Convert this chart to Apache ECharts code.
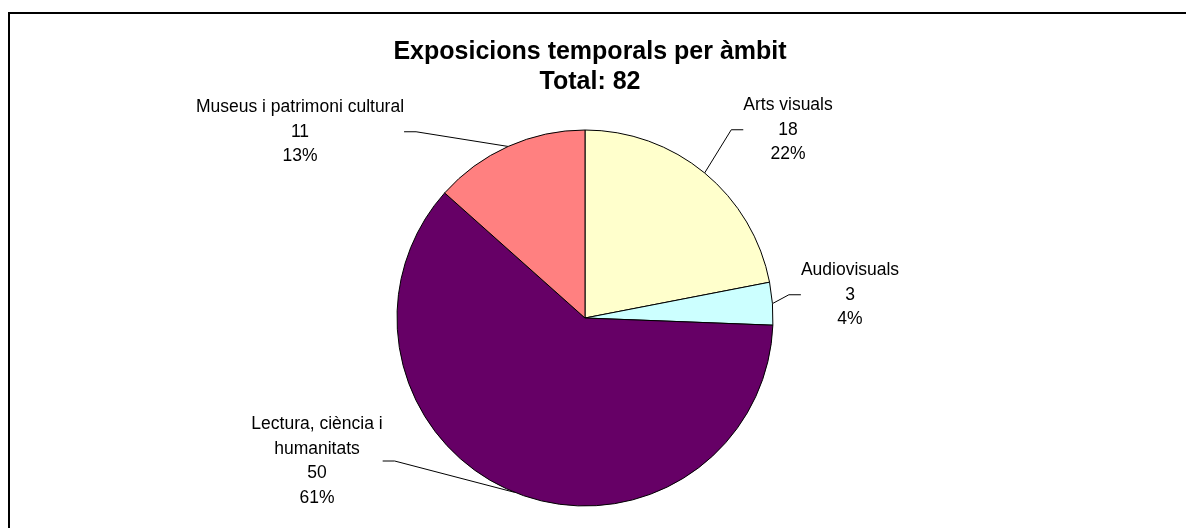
<!DOCTYPE html>
<html>
<head>
<meta charset="utf-8">
<script src="https://cdn.jsdelivr.net/npm/echarts@6/dist/echarts.min.js"></script>
<style>
  html, body { margin: 0; padding: 0; background: #fff; }
  #chart { width: 1186px; height: 528px; }
</style>
</head>
<body>
<div id="chart"></div>
<script>
const categories = ['Arts visuals', 'Audiovisuals', 'Lectura, ciència i humanitats', 'Museus i patrimoni cultural'];
const values = [18, 3, 50, 11];
const colors = ['#FFFFCC', '#CCFFFF', '#660066', '#FF8080'];
// where each label sits (centre x, top y)
const labelSpots = [[788, 93], [850, 258], [317, 412], [300, 95]];

const chart = echarts.init(document.getElementById('chart'));

const option = {
  animation: false,
  backgroundColor: '#fff',
  textStyle: { fontFamily: 'Liberation Sans, Arial, sans-serif' },
  graphic: [{
    type: 'rect',
    shape: { x: 9, y: 13, width: 1300, height: 700 },
    style: { fill: 'none', stroke: '#000', lineWidth: 2 }
  }],
  title: {
    text: 'Exposicions temporals per àmbit\nTotal: 82',
    left: 585,
    top: 32,
    textAlign: 'center',
    textStyle: { fontSize: 25, fontWeight: 'bold', color: '#000', lineHeight: 30, fontFamily: 'Liberation Sans, Arial, sans-serif' }
  },
  series: [{
    type: 'pie',
    center: [585, 318],
    radius: 188,
    startAngle: 90,
    clockwise: true,
    data: categories.map((name, i) => ({
      name: name,
      value: values[i],
      itemStyle: { color: colors[i] }
    })),
    itemStyle: { borderColor: '#000', borderWidth: 1 },
    label: {
      show: true,
      position: 'outside',
      color: '#000',
      fontSize: 17.5,
      lineHeight: 24.5,
      align: 'center',
      fontFamily: 'Liberation Sans, Arial, sans-serif',
      formatter: p => p.name.replace('ciència i ', 'ciència i\n') + '\n' + p.value + '\n' + Math.round(p.percent) + '%'
    },
    labelLine: {
      show: true,
      length: 15,
      length2: 12,
      lineStyle: { color: '#000', width: 1 }
    },
    labelLayout: params => {
      const s = labelSpots[params.dataIndex];
      return { x: s[0], y: s[1], align: 'center', verticalAlign: 'top' };
    }
  }]
};

chart.setOption(option);
</script>
</body>
</html>
